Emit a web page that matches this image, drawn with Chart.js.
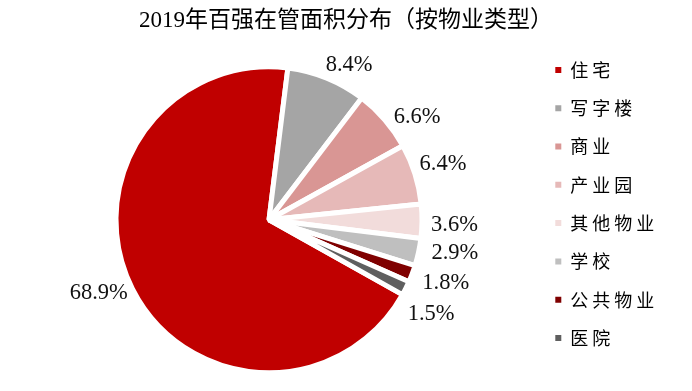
<!DOCTYPE html>
<html>
<head>
<meta charset="utf-8">
<script src="https://cdn.jsdelivr.net/npm/chart.js@4"></script>
<style>
  body { margin: 0; background: #fff; }
  #box { width: 692px; height: 391px; }
</style>
</head>
<body>
<div id="box"><canvas id="grafico" width="692" height="391"></canvas></div>
<script>
// dados do gráfico
var categorias = ['住宅', '写字楼', '商业', '产业园', '其他物业', '学校', '公共物业', '医院'];
var percentuais = [68.9, 8.4, 6.6, 6.4, 3.6, 2.9, 1.8, 1.5];

// cores de cada fatia
var cores = ['#C00000', '#A5A5A5', '#D99694', '#E6B9B8', '#F2DCDB', '#BFBFBF', '#7F0000', '#5F5F5F'];

// pequeno ajuste dos rótulos (dx, dy) para ficarem como no original
var ajusteRotulo = [[-3, -11], [14, 7], [11, 16], [0, -1], [5, 4], [8, -5], [6, -1], [-1, 13]];

var fonteSerif = '"Liberation Serif", "Times New Roman", "Noto Sans CJK SC", serif';

// escreve as porcentagens do lado de fora de cada fatia
var rotulosFora = {
    id: 'rotulosFora',
    beforeLayout: function(chart) {
        // espaçamento entre letras só na legenda, e largura fixa da caixa
        var lg = chart.legend;
        if (lg && !lg._espacado) {
            var fitOrig = lg.fit, drawOrig = lg.draw;
            lg.fit = function() {
                chart.ctx.save(); chart.ctx.letterSpacing = '4px';
                fitOrig.apply(this, arguments);
                chart.ctx.restore();
                this.width = Math.max(this.width, 154);
            };
            lg.draw = function() {
                chart.ctx.save(); chart.ctx.letterSpacing = '4px';
                drawOrig.apply(this, arguments);
                chart.ctx.restore();
            };
            lg._espacado = true;
        }
    },
    afterLayout: function(chart) {
        // a legenda começa um pouco acima da área do gráfico
        chart.legend.top -= 8;
        chart.legend.bottom -= 8;
    },
    afterDatasetsDraw: function(chart) {
        var ctx = chart.ctx;
        var arcos = chart.getDatasetMeta(0).data;
        ctx.save();
        ctx.font = '22.5px ' + fonteSerif;
        ctx.fillStyle = '#111';
        ctx.textAlign = 'center';
        ctx.textBaseline = 'middle';
        for (var i = 0; i < arcos.length; i++) {
            var a = arcos[i].getProps(['x', 'y', 'startAngle', 'endAngle', 'outerRadius'], true);
            var meio = (a.startAngle + a.endAngle) / 2;
            var cx = Math.cos(meio), cy = Math.sin(meio);
            var texto = percentuais[i].toFixed(1) + '%';
            var larg = ctx.measureText(texto).width;
            var proj = (larg / 2) * Math.abs(cx) + 10 * Math.abs(cy);
            var dist = a.outerRadius + 4 + proj;
            ctx.fillText(texto, a.x + cx * dist + ajusteRotulo[i][0], a.y + cy * dist + ajusteRotulo[i][1]);
        }
        ctx.restore();
    }
};

new Chart(document.getElementById('grafico'), {
    type: 'pie',
    data: {
        labels: categorias,
        datasets: [{
            data: percentuais,
            backgroundColor: cores,
            borderColor: '#fff',
            borderWidth: 5,
            radius: 153
        }]
    },
    options: {
        responsive: false,
        animation: false,
        rotation: 119.3,
        layout: { padding: { left: 3, right: 3, top: 0, bottom: 0 } },
        plugins: {
            title: {
                display: true,
                text: '2019年百强在管面积分布（按物业类型）',
                color: '#000',
                font: { family: fonteSerif, size: 23, weight: 'normal' },
                padding: { top: 7, bottom: 14 }
            },
            legend: {
                position: 'right',
                align: 'start',
                fullSize: false,
                labels: {
                    color: '#000',
                    boxWidth: 6,
                    boxHeight: 6,
                    padding: 20.3,
                    font: { family: '"Noto Sans CJK SC", sans-serif', size: 18 },
                    generateLabels: function(chart) {
                        var itens = Chart.overrides.doughnut.plugins.legend.labels.generateLabels(chart);
                        itens.forEach(function(it) { it.lineWidth = 0; });
                        return itens;
                    }
                }
            },
            tooltip: { enabled: false }
        }
    },
    plugins: [rotulosFora]
});
</script>
</body>
</html>
